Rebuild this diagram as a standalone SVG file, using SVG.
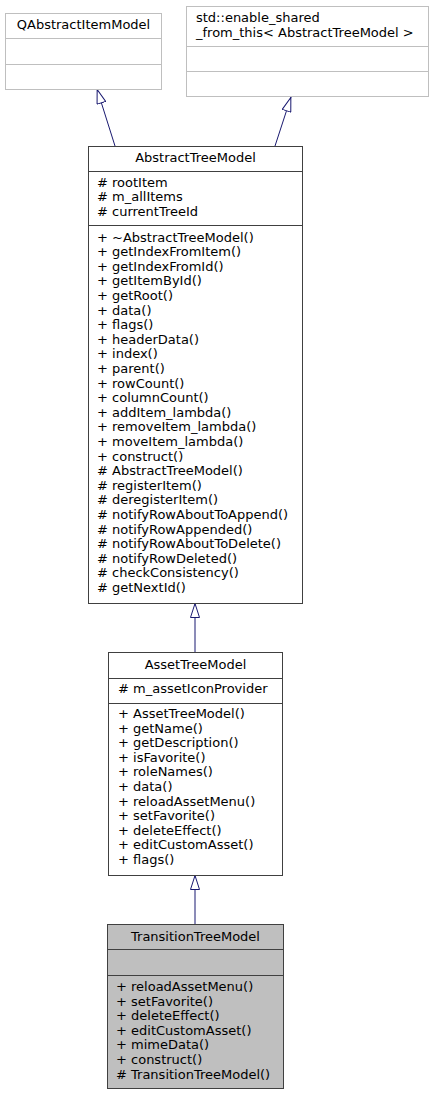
<svg xmlns="http://www.w3.org/2000/svg" width="434" height="1095" viewBox="0 0 434 1095">
  <style>
    text { font-family: "DejaVu Sans", "Liberation Sans", sans-serif; font-size: 13px; fill: #000; }
    .mid { text-anchor: middle; }
    .ext { fill: #fff; stroke: #bfbfbf; stroke-width: 1; }
    .cls { fill: #fff; stroke: #404040; stroke-width: 1; }
    .cur { fill: #bfbfbf; stroke: #404040; stroke-width: 1; }
    .sepx { stroke: #bfbfbf; stroke-width: 1; }
    .sep { stroke: #404040; stroke-width: 1; }
    .edge { fill: none; stroke: #191970; stroke-width: 1; marker-end: url(#inherit); }
  </style>
  <defs>
    <marker id="inherit" viewBox="0 0 15 10" refX="15" refY="5" markerWidth="15" markerHeight="10" markerUnits="userSpaceOnUse" orient="auto">
      <path d="M0.5,0.5 L14.5,5 L0.5,9.5 Z" fill="#fff" stroke="#191970" stroke-width="1"/>
    </marker>
  </defs>
  <rect width="434" height="1095" fill="#fff"/>

  <!-- inheritance connectors -->
  <g id="edges">
    <path class="edge" d="M115,146 L97,89"/>
    <path class="edge" d="M275,146 L291,97"/>
    <path class="edge" d="M195,652 L195,603"/>
    <path class="edge" d="M195,924 L195,875"/>
  </g>

  <g id="QAbstractItemModel">
    <rect class="ext" x="5.5" y="13.5" width="156" height="76"/>
    <line class="sepx" x1="5.5" y1="38.5" x2="161.5" y2="38.5"/>
    <line class="sepx" x1="5.5" y1="64.5" x2="161.5" y2="64.5"/>
    <text class="mid" x="83.5" y="29">QAbstractItemModel</text>
  </g>

  <g id="enable_shared_from_this">
    <rect class="ext" x="186.5" y="6.5" width="242" height="90"/>
    <line class="sepx" x1="186.5" y1="46.5" x2="428.5" y2="46.5"/>
    <line class="sepx" x1="186.5" y1="71.5" x2="428.5" y2="71.5"/>
    <text x="196" y="21.5">std::enable_shared</text>
    <text x="196" y="36.5">_from_this&lt; AbstractTreeModel &gt;</text>
  </g>

  <g id="AbstractTreeModel">
    <rect class="cls" x="88.5" y="146.5" width="214" height="457"/>
    <line class="sep" x1="88.5" y1="171.5" x2="302.5" y2="171.5"/>
    <line class="sep" x1="88.5" y1="225.5" x2="302.5" y2="225.5"/>
    <text class="mid" x="195.5" y="162">AbstractTreeModel</text>
    <text x="97" y="186.5"># rootItem</text>
    <text x="97" y="201.1"># m_allItems</text>
    <text x="97" y="215.7"># currentTreeId</text>
    <text x="97" y="241.5">+ ~AbstractTreeModel()</text>
    <text x="97" y="256.1">+ getIndexFromItem()</text>
    <text x="97" y="270.7">+ getIndexFromId()</text>
    <text x="97" y="285.3">+ getItemById()</text>
    <text x="97" y="299.9">+ getRoot()</text>
    <text x="97" y="314.5">+ data()</text>
    <text x="97" y="329.1">+ flags()</text>
    <text x="97" y="343.7">+ headerData()</text>
    <text x="97" y="358.3">+ index()</text>
    <text x="97" y="372.9">+ parent()</text>
    <text x="97" y="387.5">+ rowCount()</text>
    <text x="97" y="402.1">+ columnCount()</text>
    <text x="97" y="416.7">+ addItem_lambda()</text>
    <text x="97" y="431.3">+ removeItem_lambda()</text>
    <text x="97" y="445.9">+ moveItem_lambda()</text>
    <text x="97" y="460.5">+ construct()</text>
    <text x="97" y="475.1"># AbstractTreeModel()</text>
    <text x="97" y="489.7"># registerItem()</text>
    <text x="97" y="504.3"># deregisterItem()</text>
    <text x="97" y="518.9"># notifyRowAboutToAppend()</text>
    <text x="97" y="533.5"># notifyRowAppended()</text>
    <text x="97" y="548.1"># notifyRowAboutToDelete()</text>
    <text x="97" y="562.7"># notifyRowDeleted()</text>
    <text x="97" y="577.3"># checkConsistency()</text>
    <text x="97" y="591.9"># getNextId()</text>
  </g>

  <g id="AssetTreeModel">
    <rect class="cls" x="108.5" y="652.5" width="174" height="223"/>
    <line class="sep" x1="108.5" y1="678.5" x2="282.5" y2="678.5"/>
    <line class="sep" x1="108.5" y1="703.5" x2="282.5" y2="703.5"/>
    <text class="mid" x="195.5" y="669">AssetTreeModel</text>
    <text x="118" y="693"># m_assetIconProvider</text>
    <text x="118" y="718">+ AssetTreeModel()</text>
    <text x="118" y="732.6">+ getName()</text>
    <text x="118" y="747.2">+ getDescription()</text>
    <text x="118" y="761.8">+ isFavorite()</text>
    <text x="118" y="776.4">+ roleNames()</text>
    <text x="118" y="791">+ data()</text>
    <text x="118" y="805.6">+ reloadAssetMenu()</text>
    <text x="118" y="820.2">+ setFavorite()</text>
    <text x="118" y="834.8">+ deleteEffect()</text>
    <text x="118" y="849.4">+ editCustomAsset()</text>
    <text x="118" y="864">+ flags()</text>
  </g>

  <g id="TransitionTreeModel">
    <rect class="cur" x="107.5" y="924.5" width="176" height="164"/>
    <line class="sep" x1="107.5" y1="949.5" x2="283.5" y2="949.5"/>
    <line class="sep" x1="107.5" y1="975.5" x2="283.5" y2="975.5"/>
    <text class="mid" x="195.5" y="941">TransitionTreeModel</text>
    <text x="116" y="991">+ reloadAssetMenu()</text>
    <text x="116" y="1005.6">+ setFavorite()</text>
    <text x="116" y="1020.2">+ deleteEffect()</text>
    <text x="116" y="1034.8">+ editCustomAsset()</text>
    <text x="116" y="1049.4">+ mimeData()</text>
    <text x="116" y="1064">+ construct()</text>
    <text x="116" y="1078.6"># TransitionTreeModel()</text>
  </g>
</svg>
